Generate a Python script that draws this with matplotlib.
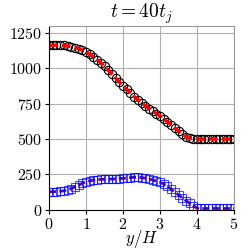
import numpy as np
import matplotlib
matplotlib.use("Agg")
import matplotlib.pyplot as plt

plt.rcParams['font.family'] = 'serif'
plt.rcParams['font.serif'] = ['cmr10']
plt.rcParams['mathtext.fontset'] = 'cm'
plt.rcParams['axes.formatter.use_mathtext'] = True

y_h = [round(0.1 * i, 1) for i in range(51)]

# upper series
upper = [1160, 1162, 1163, 1162, 1160, 1156, 1151, 1145, 1137, 1127,
         1113, 1097, 1079, 1059, 1036, 1012, 986, 958, 930, 902,
         875, 850, 825, 800, 777, 755, 735, 715, 697, 680,
         663, 643, 622, 600, 578, 556, 535, 517, 506, 501,
         500, 500, 500, 500, 500, 500, 500, 500, 500, 500, 500]

# lower series
lower = [128, 128, 129, 131, 135, 141, 150, 162, 175, 188,
         198, 205, 210, 213, 215, 216, 217, 218, 219, 221,
         223, 225, 228, 230, 230, 228, 224, 218, 211, 203,
         195, 183, 166, 146, 126, 106, 86, 66, 47, 28,
         12, 10, 10, 10, 10, 10, 10, 10, 10, 10, 10]

fig = plt.figure(figsize=(2.49, 2.49), dpi=100)
ax = fig.add_axes([0.197, 0.157, 0.743, 0.74])

ax.plot(y_h, upper, 'o', mfc='none', mec='black', ms=6, mew=0.8)
ax.plot(y_h, upper, '--', color='red', lw=2.5, dashes=(2.5, 1.2))
ax.plot(y_h, lower, '--', color='#6a0090', lw=2, dashes=(2.5, 1.2))
ax.plot(y_h, lower, 's', mfc='none', mec='blue', ms=6, mew=0.8, alpha=0.7)

ax.set_xlim(0, 5)
ax.set_ylim(0, 1300)
ax.set_xticks([0, 1, 2, 3, 4, 5])
ax.set_yticks([0, 250, 500, 750, 1000, 1250])
ax.grid(True, color='#b0b0b0', lw=0.8)
ax.set_axisbelow(True)
for s in ['top', 'right']:
    ax.spines[s].set_color('#999999')
ax.tick_params(labelsize=11.5, length=3, pad=2)
ax.set_xlabel(r'$y/H$', fontsize=12, labelpad=-3)
ax.set_title(r'$t = 40t_j$', fontsize=14, pad=3)

fig.savefig('out.png', dpi=100)
